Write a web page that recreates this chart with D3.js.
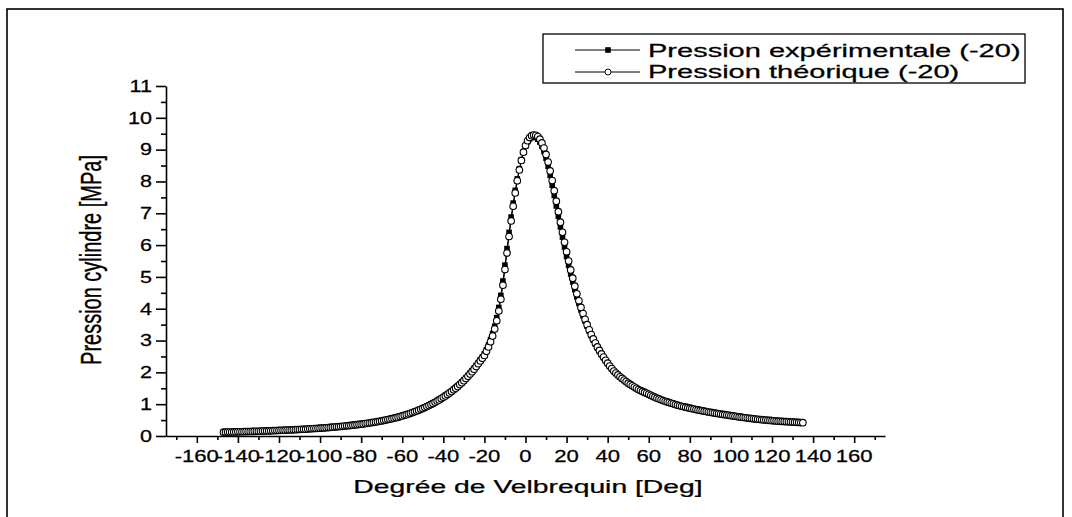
<!DOCTYPE html>
<html><head><meta charset="utf-8">
<script src="https://cdn.jsdelivr.net/npm/d3@7"></script>
<style>body{margin:0;background:#fff}svg{display:block}</style>
</head><body>
<svg id="c" width="1072" height="517"></svg>
<script>
// crank angle range (degrees), one sample per degree
const angleStart = -147, angleEnd = 135;

// experimental cylinder pressure [MPa]
const pExp = [
.122,.123,.124,.126,.127,.129,.130,.132,.134,.135,
.137,.139,.141,.143,.145,.147,.149,.151,.153,.156,
.158,.160,.163,.165,.168,.170,.173,.176,.178,.181,
.184,.187,.190,.193,.197,.200,.203,.207,.210,.214,
.218,.222,.226,.230,.234,.239,.243,.248,.252,.257,
.262,.267,.273,.278,.284,.289,.295,.302,.308,.315,
.322,.329,.336,.344,.352,.360,.368,.377,.386,.395,
.404,.414,.424,.435,.446,.457,.469,.481,.494,.508,
.522,.537,.552,.568,.585,.602,.620,.639,
.659,.680,.701,.724,.747,.771,.797,.823,.850,.879,
.908,.939,.971,1.004,1.039,1.075,1.112,1.151,1.191,1.233,
1.277,1.322,1.369,1.418,1.470,1.524,1.580,1.639,1.701,1.765,
1.832,1.902,1.976,2.053,2.133,2.218,2.307,2.400,2.485,
2.58,2.71,2.86,3.03,3.22,3.45,3.72,4.04,4.42,4.87,
5.37,5.89,6.40,6.88,7.32,7.72,8.08,8.40,8.68,8.92,
9.11,9.25,9.34,9.39,9.40,9.38,
9.33,9.24,9.11,8.94,8.73,8.48,8.19,7.88,7.56,7.23,
6.90,6.57,6.25,5.94,5.64,5.36,5.09,4.84,4.60,4.37,
4.16,3.96,3.78,3.61,3.45,3.30,3.15,3.02,2.89,2.77,
2.66,2.56,2.46,2.37,2.28,2.19,2.11,2.03,
1.97,1.91,1.85,1.80,1.75,1.70,1.65,1.61,1.57,1.53,
1.49,1.45,1.42,1.39,1.36,1.33,1.30,1.27,1.24,1.21,
1.185,1.16,1.135,1.11,1.085,1.065,1.045,1.025,1.005,.985,
.965,.945,.93,.915,.90,.885,.87,.855,.841,.827,
.813,.80,.787,.774,.762,.75,.738,.727,.716,.705,
.694,.684,.674,.664,.655,.646,
.636,.626,.616,.606,.597,.588,.579,.570,.561,.553,
.545,.537,.530,.523,.516,.509,.503,.497,.491,.485,
.479,.474,.469,.464,.459,.454,.450,.446,.442,.438,
.434,.430,.427,.423,.420,.417
];

// theoretical cylinder pressure [MPa]
const pTheo = [
.120,.121,.123,.124,.126,.127,.129,.131,.132,.134,
.136,.138,.140,.142,.144,.146,.148,.150,.152,.154,
.157,.159,.161,.164,.166,.169,.171,.174,.177,.180,
.183,.186,.189,.192,.195,.198,.202,.205,.209,.212,
.216,.220,.224,.228,.232,.236,.241,.245,.250,.255,
.260,.265,.270,.276,.281,.287,.293,.299,.305,.312,
.319,.326,.333,.340,.348,.356,.364,.372,.381,.390,
.399,.409,.419,.429,.440,.451,.463,.475,.488,.501,
.515,.529,.544,.560,.576,.593,.611,.630,
.650,.670,.692,.714,.737,.761,.786,.812,.839,.867,
.896,.927,.958,.991,1.025,1.060,1.097,1.135,1.175,1.216,
1.259,1.304,1.350,1.399,1.450,1.503,1.558,1.616,1.676,1.739,
1.805,1.874,1.946,2.021,2.100,2.183,2.270,2.360,2.440,
2.53,2.66,2.80,2.96,3.14,3.36,3.62,3.93,4.30,4.74,
5.23,5.75,6.27,6.76,7.22,7.64,8.02,8.36,8.66,8.92,
9.13,9.28,9.38,9.44,9.46,9.45,
9.41,9.33,9.21,9.05,8.85,8.61,8.33,8.03,7.71,7.38,
7.05,6.72,6.40,6.09,5.79,5.50,5.22,4.96,4.71,4.47,
4.25,4.04,3.85,3.67,3.50,3.34,3.19,3.05,2.92,2.80,
2.69,2.58,2.48,2.38,2.29,2.20,2.12,2.04,
1.98,1.92,1.86,1.81,1.76,1.71,1.66,1.62,1.58,1.54,
1.50,1.46,1.43,1.40,1.37,1.34,1.31,1.28,1.25,1.22,
1.19,1.165,1.14,1.115,1.09,1.07,1.05,1.03,1.01,.99,
.97,.95,.935,.92,.905,.89,.875,.86,.846,.832,
.818,.805,.792,.779,.767,.755,.743,.732,.721,.710,
.699,.689,.679,.669,.659,.650,
.640,.630,.620,.610,.600,.591,.582,.573,.564,.556,
.548,.540,.533,.526,.519,.512,.506,.500,.494,.488,
.482,.477,.472,.467,.462,.457,.453,.449,.445,.441,
.437,.433,.430,.426,.423,.420
];

const xTickValues = [-160,-140,-120,-100,-80,-60,-40,-20,0,20,40,60,80,100,120,140,160];
const xMinorValues = [-170,-150,-130,-110,-90,-70,-50,-30,-10,10,30,50,70,90,110,130,150,170];
const yTickValues = [0,1,2,3,4,5,6,7,8,9,10,11];
const yMinorValues = [0.5,1.5,2.5,3.5,4.5,5.5,6.5,7.5,8.5,9.5,10.5];
const seriesNames = ["Pression expérimentale (-20)", "Pression théorique (-20)"];
const xTitle = "Degrée de Velbrequin [Deg]";
const yTitle = "Pression cylindre [MPa]";

const FONT = "'Liberation Sans', Arial, Helvetica, sans-serif";
const angles = d3.range(angleStart, angleEnd + 1);
const dataExp = angles.map((a, i) => [a, pExp[i]]).filter(d => d[1] != null);
const dataTheo = angles.map((a, i) => [a, pTheo[i]]).filter(d => d[1] != null);

const svg = d3.select("#c");
const x = d3.scaleLinear().domain([-175, 175]).range([166, 885]);
const y = d3.scaleLinear().domain([0, 11]).range([436, 86]);

// outer frame
svg.append("rect").attr("x", 7).attr("y", 9).attr("width", 1056).attr("height", 540)
  .attr("fill", "none").attr("stroke", "#000").attr("stroke-width", 1.6);

function sText(g, px, py, str, size, sx, anchor, extra) {
  return g.append("text")
    .attr("transform", `translate(${px},${py}) scale(${sx},1)` + (extra || ""))
    .attr("text-anchor", anchor).attr("font-size", size)
    .attr("font-family", FONT).attr("fill", "#000")
    .attr("stroke", "#000").attr("stroke-width", 0.25).text(str);
}

// x axis
const gx = svg.append("g").attr("transform", `translate(0,${y(0)})`);
gx.call(d3.axisBottom(x).tickValues(xTickValues).tickSize(7).tickSizeOuter(0).tickFormat(""));
const gxm = svg.append("g").attr("transform", `translate(0,${y(0)})`);
gxm.call(d3.axisBottom(x).tickValues(xMinorValues).tickSize(4).tickSizeOuter(0).tickFormat(""));
gxm.select(".domain").remove();
[gx, gxm].forEach(g => { g.selectAll("line").attr("stroke", "#000").attr("stroke-width", 1.6); });
gx.select(".domain").attr("stroke", "#000").attr("stroke-width", 1.6);
xTickValues.forEach(v => sText(svg, x(v), 462, String(v), 16, 1.38, "middle"));

// y axis
const gy = svg.append("g").attr("transform", `translate(${x(-175)},0)`);
gy.call(d3.axisLeft(y).tickValues(yTickValues).tickSize(10).tickSizeOuter(0).tickFormat(""));
const gym = svg.append("g").attr("transform", `translate(${x(-175)},0)`);
gym.call(d3.axisLeft(y).tickValues(yMinorValues).tickSize(5).tickSizeOuter(0).tickFormat(""));
gym.select(".domain").remove();
[gy, gym].forEach(g => { g.selectAll("line").attr("stroke", "#000").attr("stroke-width", 1.6); });
gy.select(".domain").attr("stroke", "#000").attr("stroke-width", 1.6);
yTickValues.forEach(v => sText(svg, 152, y(v) + 5.8, String(v), 16, 1.35, "end"));

// titles
sText(svg, 528, 493, xTitle, 18.5, 1.53, "middle");
sText(svg, 101, 260, yTitle, 20, 1.45, "middle", " rotate(-90)");

// series
const line = d3.line().x(d => x(d[0])).y(d => y(d[1]));
svg.append("path").datum(dataExp).attr("d", line).attr("fill", "none").attr("stroke", "#000").attr("stroke-width", 1);
svg.append("g").selectAll("rect").data(dataExp).join("rect")
  .attr("x", d => x(d[0]) - 2.8).attr("y", d => y(d[1]) - 2.8)
  .attr("width", 5.6).attr("height", 5.6).attr("fill", "#000");
svg.append("path").datum(dataTheo).attr("d", line).attr("fill", "none").attr("stroke", "#000").attr("stroke-width", 1);
svg.append("g").selectAll("circle").data(dataTheo).join("circle")
  .attr("cx", d => x(d[0])).attr("cy", d => y(d[1])).attr("r", 3.3)
  .attr("fill", "#fff").attr("stroke", "#000").attr("stroke-width", 1.1);

// legend
const lg = svg.append("g");
lg.append("rect").attr("x", 543).attr("y", 34).attr("width", 482).attr("height", 49)
  .attr("fill", "#fff").attr("stroke", "#000").attr("stroke-width", 1.3);
const ly = [50, 72];
lg.append("line").attr("x1", 575).attr("x2", 640).attr("y1", ly[0]).attr("y2", ly[0]).attr("stroke", "#000");
lg.append("rect").attr("x", 608 - 2.8).attr("y", ly[0] - 2.8).attr("width", 5.6).attr("height", 5.6).attr("fill", "#000");
lg.append("line").attr("x1", 575).attr("x2", 640).attr("y1", ly[1]).attr("y2", ly[1]).attr("stroke", "#000");
lg.append("circle").attr("cx", 608).attr("cy", ly[1]).attr("r", 3).attr("fill", "#fff").attr("stroke", "#000").attr("stroke-width", 1);
sText(lg, 648, 56.5, seriesNames[0], 17.7, 1.64, "start");
sText(lg, 648, 78, seriesNames[1], 17.7, 1.64, "start");
</script>
</body></html>
